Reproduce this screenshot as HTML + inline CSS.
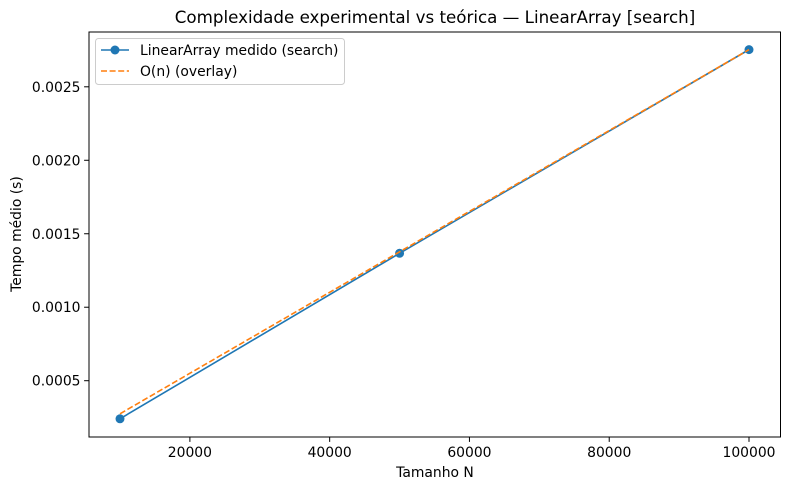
<!DOCTYPE html>
<html><head><meta charset="utf-8"><style>
body{margin:0;background:#fff}
text{font-family:"DejaVu Sans","Liberation Sans",sans-serif;fill:#000}
</style></head><body>
<svg id="chart" width="790" height="490" viewBox="0 0 790 490" xmlns="http://www.w3.org/2000/svg">
<rect width="790" height="490" fill="#fff"/>
<text x="435" y="23" text-anchor="middle" font-size="16.7">Complexidade experimental vs teórica — LinearArray [search]</text>
<g id="ticks"></g>
<g id="series"></g>
<rect x="89" y="32" width="691.5" height="405" fill="none" stroke="#000" stroke-width="1"/>
<text x="435" y="477" text-anchor="middle" font-size="13.9">Tamanho N</text>
<text transform="translate(21,234) rotate(-90)" text-anchor="middle" font-size="13.9">Tempo médio (s)</text>
<g>
<rect x="95.5" y="38.5" width="249" height="46" rx="3" fill="#fff" fill-opacity="0.8" stroke="#ccc"/>
<g>
<line x1="101" y1="50" x2="129" y2="50" stroke="#1f77b4" stroke-width="1.6"/>
<circle cx="115" cy="50" r="4.5" fill="#1f77b4"/>
<text x="140" y="55" font-size="13.9">LinearArray medido (search)</text></g>
<g>
<line x1="101" y1="71" x2="129" y2="71" stroke="#ff7f0e" stroke-width="1.6" stroke-dasharray="6,2.6"/>
<text x="140" y="76" font-size="13.9">O(n) (overlay)</text></g>
</g>
</svg>
<script>
const sizes=[10000,50000,100000];
const measured=[0.000241,0.001367,0.002753];
const overlay=[0.000275,0.001377,0.002753];
const xTicks=[20000,40000,60000,80000,100000];
const yTicks=[0.0005,0.0010,0.0015,0.0020,0.0025];
const yTickLabels=["0.0005","0.0010","0.0015","0.0020","0.0025"];
const NS="http://www.w3.org/2000/svg";
function X(v){return 120+(v-10000)*(629/90000);}
function Y(v){return 380.7-(v-0.0005)*(293.9/0.002);}
function mk(tag,attrs,parent){const e=document.createElementNS(NS,tag);for(const k in attrs)e.setAttribute(k,attrs[k]);parent.appendChild(e);return e;}
const tg=document.getElementById('ticks'),sg=document.getElementById('series');
xTicks.forEach(t=>{const x=X(t);
 const l=mk('line',{x1:x,x2:x,y1:437,y2:441.9,stroke:'#000'},tg);
 
 
 const tx=mk('text',{x:x,y:457,'text-anchor':'middle','font-size':'13.9'},tg);tx.textContent=t;
 
 });
yTicks.forEach((t,i)=>{const y=Y(t);
 const l=mk('line',{x1:84.1,x2:89,y1:y,y2:y,stroke:'#000'},tg);
 
 
 const tx=mk('text',{x:80.5,y:y+5,'text-anchor':'end','font-size':'13.9'},tg);tx.textContent=yTickLabels[i];
 
 });
const mp=sizes.map((s,i)=>X(s)+','+Y(measured[i])).join(' ');
const ml=mk('polyline',{points:mp,fill:'none',stroke:'#1f77b4','stroke-width':1.6},sg);


sizes.forEach((s,i)=>{const c=mk('circle',{cx:X(s),cy:Y(measured[i]),r:4.5,fill:'#1f77b4'},sg);
 
 });
const op=sizes.map((s,i)=>X(s)+','+Y(overlay[i])).join(' ');
const ol=mk('polyline',{points:op,fill:'none',stroke:'#ff7f0e','stroke-width':1.6,'stroke-dasharray':'6,2.6'},sg);


</script>
</body></html>
